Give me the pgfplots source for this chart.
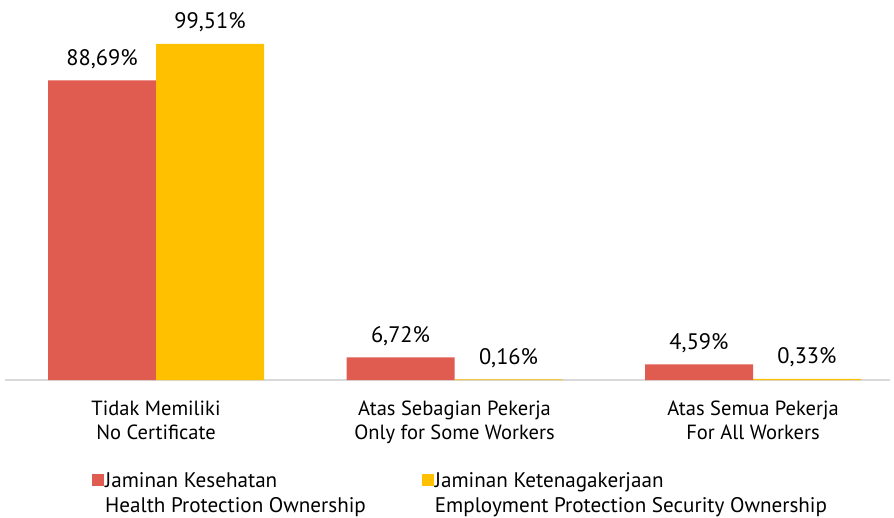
\documentclass[border=0pt]{standalone}
\usepackage{fontspec}
\setmainfont{PT Sans}
\usepackage{pgfplots}
\usepackage{pgfplotstable}
\pgfplotsset{compat=1.18}
\definecolor{cred}{HTML}{E05B50}
\definecolor{cyel}{HTML}{FFC000}
\definecolor{cgrid}{HTML}{D9D9D9}
\pgfplotstableread{
x y lab
0 88.69 88,69\%
1 6.72 6,72\%
2 4.59 4,59\%
}\tabA
\pgfplotstableread{
x y lab
0 99.51 99,51\%
1 0.16 0,16\%
2 0.33 0,33\%
}\tabB
\begin{document}
\begin{tikzpicture}
\begin{axis}[
  scale only axis,
  width=885bp, height=380bp,
  xmin=-0.506, xmax=2.459,
  ymin=0, ymax=112.5,
  ybar=0pt, bar width=108bp,
  axis x line*=bottom,
  axis y line=none,
  x axis line style={draw=cgrid, line width=1.6bp, -},
  xtick={0,1,2},
  xticklabels={{Tidak Memiliki\\No Certificate},{Atas Sebagian Pekerja\\Only for Some Workers},{Atas Semua Pekerja\\For All Workers}},
  xticklabel style={align=center, font=\fontsize{20.6}{24.5}\selectfont, yshift=-17bp},
  major tick length=0pt,
  point meta=explicit symbolic,
  nodes near coords,
  nodes near coords style={font=\fontsize{22.5}{26}\selectfont, anchor=base, yshift=15bp, text=black},
  legend columns=2,
  legend style={draw=none, fill=none, at={(0,0)}, anchor=north west, xshift=84bp, yshift=-89bp,
    nodes={align=left, font=\fontsize{21.2}{25}\selectfont, inner sep=1bp},
    /tikz/every even column/.append style={column sep=55bp}},
  legend cell align=left,
  legend image code/.code={\fill[#1,draw=none] (0bp,7bp) rectangle (12bp,19bp);},
]
\addplot[fill=cred, draw=none] table[x=x,y=y,meta=lab]{\tabA};
\addlegendentry{Jaminan Kesehatan\\Health Protection Ownership}
\addplot[fill=cyel, draw=none] table[x=x,y=y,meta=lab]{\tabB};
\addlegendentry{Jaminan Ketenagakerjaan\\Employment Protection Security Ownership}
\end{axis}
\pgfresetboundingbox
\useasboundingbox (-5bp,-138bp) rectangle (889bp,380bp);
\end{tikzpicture}
\end{document}
